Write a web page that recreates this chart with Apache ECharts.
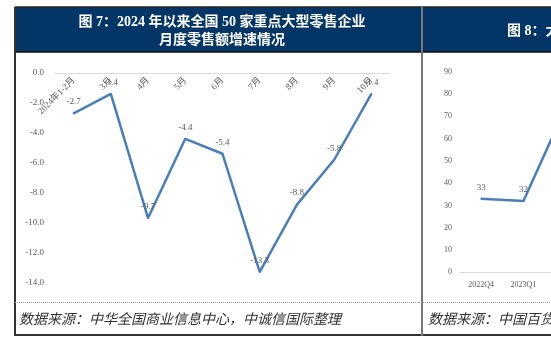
<!DOCTYPE html>
<html><head><meta charset="utf-8">
<script src="https://cdn.jsdelivr.net/npm/echarts@6/dist/echarts.min.js"></script>
<style>html,body{margin:0;padding:0;background:#fff;overflow:hidden;width:551px;height:345px}#c{width:640px;height:345px}</style>
</head><body><div id="c"></div>
<script>
// Figure 7 data
const months = ['2024年1-2月','3月','4月','5月','6月','7月','8月','9月','10月'];
const growth = [-2.7,-1.4,-9.7,-4.4,-5.4,-13.3,-8.8,-5.8,-1.4];
const yMin7 = -14, yMax7 = 0, yStep7 = 2;
// Figure 8 data (partially visible)
const quarters = ['2022Q4','2023Q1','2023Q2','2023Q3'];
const values8 = [33,32,74];
const yMin8 = 0, yMax8 = 90, yStep8 = 10;

const serif = '"Liberation Serif","Times New Roman","Noto Sans CJK SC",serif';
const cjk = '"Liberation Serif","Noto Sans CJK SC",serif';
const gray = '#595959';
const navy = '#033566';
const blue = '#4A7EBB';

const chart = echarts.init(document.getElementById('c'), null, {renderer:'canvas'});
chart.setOption({
  animation:false,
  backgroundColor:'#fff',
  grid:[
    {left:55, top:73, width:335, height:209.4, containLabel:false},
    {left:460, top:71.7, width:169.2, height:200.6, containLabel:false}
  ],
  xAxis:[
    {type:'category', gridIndex:0, data:months, boundaryGap:true, position:'top',
     axisLine:{onZero:false, lineStyle:{color:'#D9D9D9', width:1}},
     axisTick:{show:false},
     axisLabel:{inside:true, rotate:-45, fontSize:9, color:gray, fontFamily:serif, margin:6, interval:0}},
    {type:'category', gridIndex:1, data:quarters, boundaryGap:true,
     axisLine:{lineStyle:{color:'#D9D9D9', width:1}},
     axisTick:{show:false},
     axisLabel:{fontSize:8, color:gray, fontFamily:serif, margin:9, interval:0}}
  ],
  yAxis:[
    {type:'value', gridIndex:0, min:yMin7, max:yMax7, interval:yStep7,
     axisLine:{show:false}, axisTick:{show:false}, splitLine:{show:false},
     axisLabel:{fontSize:9, color:gray, fontFamily:serif, margin:11, formatter:v=>v.toFixed(1)}},
    {type:'value', gridIndex:1, min:yMin8, max:yMax8, interval:yStep8,
     axisLine:{show:false}, axisTick:{show:false}, splitLine:{show:false},
     axisLabel:{fontSize:8, color:gray, fontFamily:serif, margin:8}}
  ],
  series:[
    {type:'line', xAxisIndex:0, yAxisIndex:0, data:growth, symbol:'circle', symbolSize:2, showSymbol:true,
     lineStyle:{color:blue, width:2.5}, itemStyle:{color:blue},
     label:{show:true, position:'top', distance:6, fontSize:9, color:gray, fontFamily:serif, formatter:p=>p.value.toFixed(1)},
     labelLayout:{hideOverlap:false}},
    {type:'line', xAxisIndex:1, yAxisIndex:1, data:values8, symbol:'circle', symbolSize:2, showSymbol:true,
     lineStyle:{color:blue, width:2.5}, itemStyle:{color:blue},
     label:{show:true, position:'top', distance:6, fontSize:9, color:gray, fontFamily:serif}}
  ],
  graphic:[
    {type:'rect', z:-1, shape:{x:15, y:7, width:640, height:45}, style:{fill:navy}},
    {type:'line', shape:{x1:15, y1:7, x2:640, y2:7}, style:{stroke:'#222', lineWidth:1.5}},
    {type:'line', shape:{x1:15, y1:52, x2:640, y2:52}, style:{stroke:'#111', lineWidth:1.5}},
    {type:'line', shape:{x1:15, y1:7, x2:15, y2:336}, style:{stroke:'#333', lineWidth:2}},
    {type:'line', shape:{x1:15, y1:335, x2:640, y2:335}, style:{stroke:'#333', lineWidth:2}},
    {type:'line', shape:{x1:422, y1:7, x2:422, y2:336}, style:{stroke:'#777', lineWidth:2}},
    {type:'line', shape:{x1:15, y1:302.5, x2:640, y2:302.5}, style:{stroke:'#999', lineWidth:1, lineDash:[1,1]}},
    {type:'text', style:{text:'图 7：2024 年以来全国 50 家重点大型零售企业', x:222, y:22, fill:'#fff',
      font:'bold 14px '+cjk, textAlign:'center', textVerticalAlign:'middle'}},
    {type:'text', style:{text:'月度零售额增速情况', x:222, y:40, fill:'#fff',
      font:'bold 14px '+cjk, textAlign:'center', textVerticalAlign:'middle'}},
    {type:'text', style:{text:'图 8：大型零售企业', x:507, y:31, fill:'#fff',
      font:'bold 14px '+cjk, textAlign:'left', textVerticalAlign:'middle'}},
    {type:'text', style:{text:'数据来源：中华全国商业信息中心，中诚信国际整理', x:19, y:319, fill:'#333',
      font:'italic 14px "Noto Sans CJK SC",sans-serif', textAlign:'left', textVerticalAlign:'middle'}},
    {type:'text', style:{text:'数据来源：中国百货商业协会', x:428, y:319, fill:'#333',
      font:'italic 14px "Noto Sans CJK SC",sans-serif', textAlign:'left', textVerticalAlign:'middle'}}
  ]
});
</script>
</body></html>
